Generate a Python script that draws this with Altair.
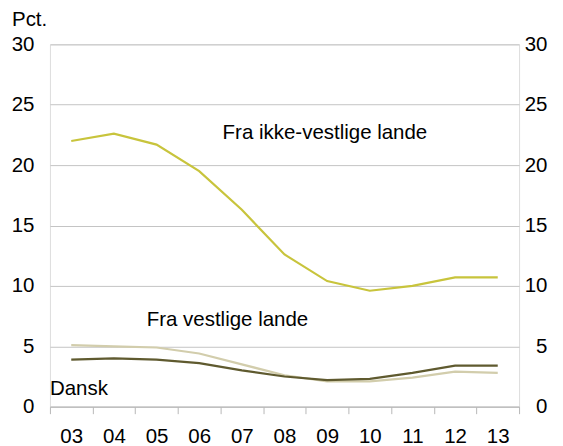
import altair as alt
import pandas as pd

years = ["03", "04", "05", "06", "07", "08", "09", "10", "11", "12", "13"]
ikke_vestlige = [22.0, 22.6, 21.7, 19.5, 16.3, 12.6, 10.4, 9.6, 10.0, 10.7, 10.7]
vestlige = [5.1, 5.0, 4.9, 4.4, 3.5, 2.6, 2.1, 2.1, 2.4, 2.9, 2.8]
dansk = [3.9, 4.0, 3.9, 3.6, 3.0, 2.5, 2.2, 2.3, 2.8, 3.4, 3.4]

series_names = ["Fra ikke-vestlige lande", "Fra vestlige lande", "Dansk"]
series_colors = ["#c8c43c", "#d2cdac", "#5f5a2f"]
y_ticks = [0, 5, 10, 15, 20, 25, 30]

rows = []
for name, vals in zip(series_names, [ikke_vestlige, vestlige, dansk]):
    for yr, v in zip(years, vals):
        rows.append({"year": yr, "value": v, "series": name})
df = pd.DataFrame(rows)

FONT = "Liberation Sans"
FS = 20.5

x_enc = alt.X(
    "year:O",
    sort=years,
    scale=alt.Scale(type="band", paddingInner=0, paddingOuter=0),
    bandPosition=0.5,
    axis=alt.Axis(
        title=None, labelAngle=0, tickBand="extent", domainColor="#b8b8b8",
        tickColor="#b8b8b8", tickSize=7, labelPadding=13, labelFontSize=FS,
        labelFont=FONT, labelColor="#000000", grid=False,
    ),
)
y_scale = alt.Scale(domain=[0, 30], nice=False)

lines = alt.Chart(df).mark_line(strokeWidth=2.2).encode(
    x=x_enc,
    y=alt.Y(
        "value:Q", scale=y_scale,
        axis=alt.Axis(
            title=None, values=y_ticks, domain=False, ticks=False,
            labelPadding=16, labelFontSize=FS, labelFont=FONT,
            labelColor="#000000", gridColor="#c4c4c4", orient="left",
        ),
    ),
    color=alt.Color("series:N", scale=alt.Scale(domain=series_names, range=series_colors), legend=None),
)

right = alt.Chart(df).mark_line(opacity=0).encode(
    x=x_enc,
    y=alt.Y(
        "value:Q", scale=y_scale,
        axis=alt.Axis(
            title=None, values=y_ticks, domain=False, ticks=False, grid=False,
            labelPadding=28, labelAlign="right", labelFontSize=FS, labelFont=FONT,
            labelColor="#000000", orient="right",
        ),
    ),
)

label_df = pd.DataFrame({
    "text": ["Fra ikke-vestlige lande", "Fra vestlige lande", "Dansk", "Pct."],
    "px": [173, 97, 0, -38],
    "py": [89, 276, 345, -24],
})
labels = alt.Chart(label_df).mark_text(
    align="left", baseline="middle", font=FONT, fontSize=FS, color="#000000"
).encode(
    x=alt.X("px:Q", scale=None),
    y=alt.Y("py:Q", scale=None),
    text="text:N",
)

chart = alt.layer(lines, right, labels).resolve_axis(y="independent").properties(
    width=470,
    height=363,
    autosize=alt.AutoSizeParams(type="none"),
    padding={"left": 42, "top": 36, "right": 36, "bottom": 40},
).configure_view(stroke=None).configure(background="#ffffff")

chart.save("out.html", embed_options={"renderer": "svg", "actions": False})
